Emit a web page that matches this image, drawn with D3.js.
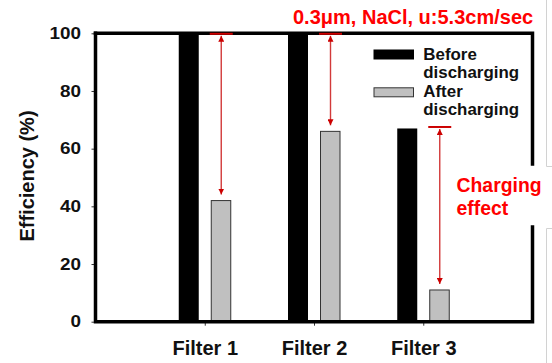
<!DOCTYPE html>
<html>
<head>
<meta charset="utf-8">
<script src="https://cdn.jsdelivr.net/npm/d3@7"></script>
<style>
  html, body { margin: 0; padding: 0; background: #fff; }
  svg { display: block; font-family: "Liberation Sans", Arial, sans-serif; }
</style>
</head>
<body>
<svg id="chart" width="552" height="363"></svg>
<script>
// Filtration efficiency before/after discharging
const categories = ["Filter 1", "Filter 2", "Filter 3"];
const beforeValues = [100, 100, 67];
const afterValues = [42, 66, 11];
const yTicks = [0, 20, 40, 60, 80, 100];
const seriesNames = ["Before\ndischarging", "After\ndischarging"];
const titleText = "0.3\u03bcm, NaCl, u:5.3cm/sec";
const noteLines = ["Charging", "effect"];
const yTitle = "Efficiency (%)";

const svg = d3.select("#chart");
const plot = { left: 95.5, right: 532.5, top: 33.3, bottom: 321.7 };

const x = d3.scaleLinear().domain([0, categories.length + 1]).range([plot.left, plot.right]);
const y = d3.scaleLinear().domain([0, 100]).range([plot.bottom, plot.top]);

const red = "#cc0000";

// side panel edge lines
const edge = svg.append("g").attr("stroke", "#d2d2d2").attr("stroke-width", 1).attr("fill", "none");
edge.append("path").attr("d", "M546.5,0V166.5H552");
edge.append("path").attr("d", "M552,228.5H546.5V363");

// bars
const barG = svg.append("g");
categories.forEach((c, i) => {
  const cx = x(i + 1);
  barG.append("rect")
    .attr("x", cx - 26).attr("width", 20)
    .attr("y", y(beforeValues[i])).attr("height", y(0) - y(beforeValues[i]))
    .attr("fill", "#000");
  barG.append("rect")
    .attr("x", cx + 6.5).attr("width", 19.5)
    .attr("y", y(afterValues[i])).attr("height", y(0) - y(afterValues[i]))
    .attr("fill", "#c0c0c0").attr("stroke", "#333").attr("stroke-width", 1);
});

// axes
const yAxis = svg.append("g")
  .attr("transform", `translate(${plot.left},0)`)
  .call(d3.axisLeft(y).tickValues(yTicks).tickSize(4).tickPadding(10.5));
yAxis.select(".domain").remove();
yAxis.selectAll(".tick line").attr("stroke", "#333");
yAxis.selectAll(".tick text")
  .attr("font-size", 16).attr("font-weight", "bold").attr("fill", "#111")
  .attr("font-family", "Liberation Sans, Arial, sans-serif")
  .attr("textLength", d => String(d).length * 10.5)
  .attr("lengthAdjust", "spacingAndGlyphs");

const xAxis = svg.append("g")
  .attr("transform", `translate(0,${plot.bottom})`)
  .call(d3.axisBottom(x).tickValues(categories.map((c, i) => i + 1))
    .tickFormat(d => categories[d - 1]).tickSize(4).tickPadding(15));
xAxis.select(".domain").remove();
xAxis.selectAll(".tick line").attr("stroke", "#333");
xAxis.selectAll(".tick text")
  .attr("font-size", 20).attr("font-weight", "bold").attr("fill", "#111")
  .attr("font-family", "Liberation Sans, Arial, sans-serif");

// frame (right side interrupted by the note box)
const frame = svg.append("g").attr("stroke", "#000").attr("stroke-width", 3.5)
  .attr("fill", "none").attr("stroke-linecap", "square");
frame.append("path").attr("d",
  `M${plot.left},${plot.top}V${plot.bottom}H${plot.right}V227`);
frame.append("path").attr("d",
  `M${plot.left},${plot.top}H${plot.right}V164`);

// y title
svg.append("text")
  .attr("transform", "translate(34,176) rotate(-90)")
  .attr("text-anchor", "middle")
  .attr("font-size", 20).attr("font-weight", "bold").attr("fill", "#111")
  .text(yTitle);

// charging-effect arrows
const defs = svg.append("defs");
defs.append("marker").attr("id", "ah")
  .attr("viewBox", "0 0 10 10").attr("refX", 10).attr("refY", 5)
  .attr("markerWidth", 6).attr("markerHeight", 6)
  .attr("markerUnits", "userSpaceOnUse")
  .attr("orient", "auto-start-reverse")
  .append("path").attr("d", "M0,0L10,5L0,10Z").attr("fill", red);

const arrG = svg.append("g");
categories.forEach((c, i) => {
  const ax = x(i + 1) + 16.5;
  const capY = y(beforeValues[i]) - (beforeValues[i] < 100 ? 1.5 : -0.5);
  arrG.append("line")
    .attr("x1", ax - 11.5).attr("x2", ax + 11.5)
    .attr("y1", capY).attr("y2", capY)
    .attr("stroke", red).attr("stroke-width", 2);
  arrG.append("line")
    .attr("x1", ax).attr("x2", ax)
    .attr("y1", capY + 2).attr("y2", y(afterValues[i]) - 6)
    .attr("stroke", "#d23a3a").attr("stroke-width", 1.4)
    .attr("marker-start", "url(#ah)").attr("marker-end", "url(#ah)");
});

// title
svg.append("text")
  .attr("x", 293).attr("y", 23.5)
  .attr("font-size", 20).attr("font-weight", "bold").attr("fill", "#ff0000")
  .text(titleText);

// note
const note = svg.append("text")
  .attr("font-size", 19.4).attr("font-weight", "bold").attr("fill", "#ff0000");
noteLines.forEach((t, k) => {
  note.append("tspan").attr("x", 456.5).attr("y", 192 + k * 23.3).text(t);
});

// legend
const legend = svg.append("g");
const swatchFill = ["#000", "#c0c0c0"];
seriesNames.forEach((name, k) => {
  const top = 50 + k * 37.8;
  legend.append("rect")
    .attr("x", 374).attr("y", top).attr("width", 39.5).attr("height", 9)
    .attr("fill", swatchFill[k])
    .attr("stroke", k ? "#333" : "#000").attr("stroke-width", 1);
  const t = legend.append("text")
    .attr("font-size", 16.9).attr("font-weight", "bold").attr("fill", "#111");
  name.split("\n").forEach((line, j) => {
    t.append("tspan").attr("x", 423.3).attr("y", top + 9.5 + j * 18).text(line);
  });
});
</script>
</body>
</html>
